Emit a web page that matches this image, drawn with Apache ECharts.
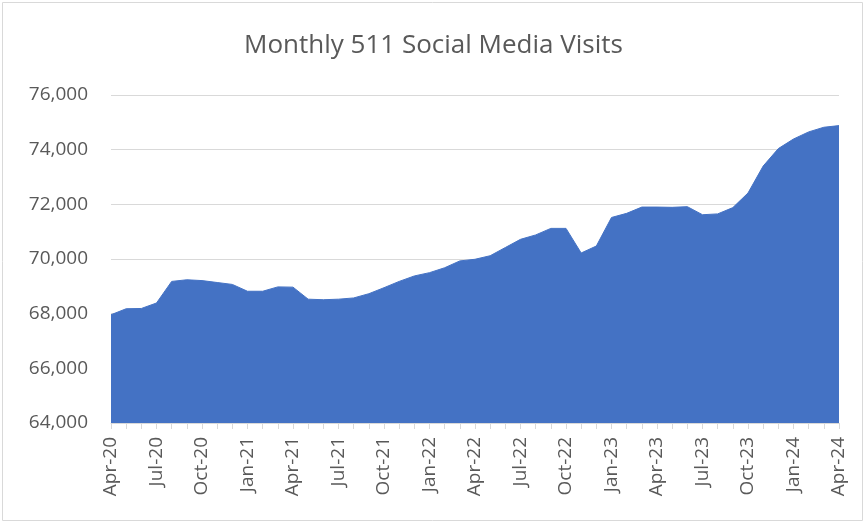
<!DOCTYPE html>
<html>
<head>
<meta charset="utf-8">
<script src="https://cdn.jsdelivr.net/npm/echarts@6/dist/echarts.min.js"></script>
<style>
  html, body { margin: 0; padding: 0; background: #fff; }
  #chart { width: 867px; height: 523px; }
</style>
</head>
<body>
<div id="chart"></div>
<script>
// months Apr-20 .. Apr-24
const months = [
  'Apr-20', 'May-20', 'Jun-20', 'Jul-20', 'Aug-20', 'Sep-20', 'Oct-20', 'Nov-20', 'Dec-20',
  'Jan-21', 'Feb-21', 'Mar-21', 'Apr-21', 'May-21', 'Jun-21', 'Jul-21', 'Aug-21', 'Sep-21', 'Oct-21', 'Nov-21', 'Dec-21',
  'Jan-22', 'Feb-22', 'Mar-22', 'Apr-22', 'May-22', 'Jun-22', 'Jul-22', 'Aug-22', 'Sep-22', 'Oct-22', 'Nov-22', 'Dec-22',
  'Jan-23', 'Feb-23', 'Mar-23', 'Apr-23', 'May-23', 'Jun-23', 'Jul-23', 'Aug-23', 'Sep-23', 'Oct-23', 'Nov-23', 'Dec-23',
  'Jan-24', 'Feb-24', 'Mar-24', 'Apr-24'
];

// monthly visits
const visits = [
  67960, 68180, 68190, 68390, 69180, 69240, 69210, 69140, 69070,
  68820, 68820, 68980, 68970, 68530, 68510, 68530, 68575, 68730, 68950, 69180, 69380,
  69500, 69680, 69930, 69990, 70120, 70420, 70720, 70880, 71120, 71120, 70220, 70475,
  71520, 71670, 71900, 71900, 71890, 71915, 71620, 71650, 71880, 72415, 73400, 74040,
  74390, 74650, 74820, 74880
];

const chart = echarts.init(document.getElementById('chart'));

const textColor = '#595959';
const gridColor = '#d9d9d9';

let option = {
  animation: false,
  title: {
    text: 'Monthly 511 Social Media Visits',
    left: 'center',
    top: 28,
    textStyle: {
      fontFamily: 'Open Sans',
      fontSize: 26,
      fontWeight: 'normal',
      color: textColor
    }
  },
  grid: {
    left: 111,
    right: 28,
    top: 95,
    bottom: 100
  },
  xAxis: {
    type: 'category',
    boundaryGap: false,
    data: months,
    axisLine: { lineStyle: { color: gridColor, width: 1 } },
    axisTick: {
      show: true,
      interval: 0,
      length: 6,
      lineStyle: { color: gridColor }
    },
    axisLabel: {
      interval: 2,
      rotate: 90,
      margin: 14,
      fontFamily: 'Open Sans',
      fontSize: 19,
      color: textColor
    },
    splitLine: { show: false }
  },
  yAxis: {
    type: 'value',
    min: 64000,
    max: 76000,
    interval: 2000,
    axisLine: { show: false },
    axisTick: { show: false },
    axisLabel: {
      margin: 23,
      fontFamily: 'Open Sans',
      fontSize: 19,
      color: textColor,
      formatter: v => v.toLocaleString('en-US')
    },
    splitLine: { lineStyle: { color: gridColor, width: 1 } }
  },
  series: [
    {
      name: 'Visits',
      type: 'line',
      data: visits,
      symbol: 'none',
      lineStyle: { color: '#4472C4', width: 1 },
      itemStyle: { color: '#4472C4' },
      areaStyle: { color: '#4472C4', opacity: 1, origin: 'start' },
      z: 3
    }
  ],
  graphic: [
    {
      type: 'rect',
      shape: { x: 2.5, y: 2.5, width: 860, height: 518 },
      style: { fill: 'none', stroke: gridColor, lineWidth: 1 },
      silent: true
    }
  ]
};

chart.setOption(option);
</script>
</body>
</html>
